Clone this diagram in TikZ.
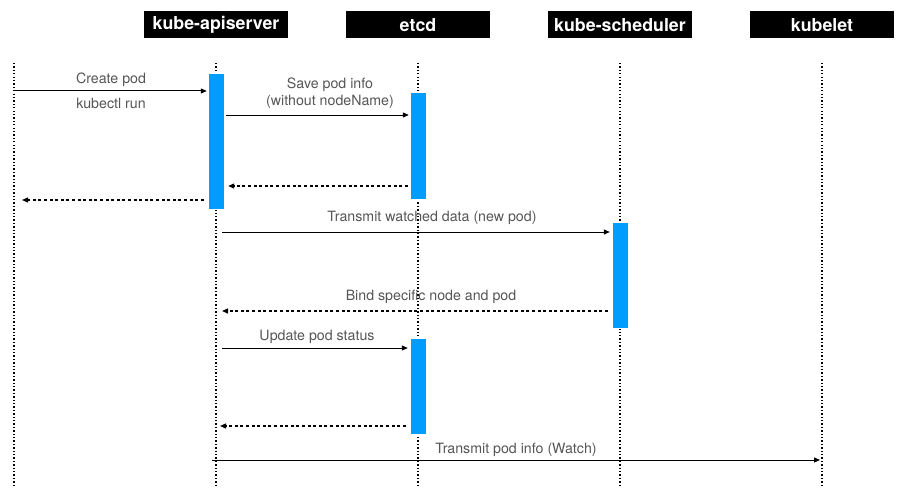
\documentclass[tikz,border=0pt]{standalone}
\usepackage{fontspec}
\setmainfont{TeX Gyre Heros}
\usetikzlibrary{arrows.meta,positioning}
\definecolor{barblue}{RGB}{0,157,255}
\definecolor{lblgray}{RGB}{85,85,85}
\begin{document}
\begin{tikzpicture}[x=1pt,y=-1pt,line join=round,>={Triangle[length=6pt,width=5pt]},
    header/.style={fill=black,text=white,font=\fontsize{17.8}{21}\selectfont\bfseries,minimum width=144pt,minimum height=27pt,inner sep=0pt},
    lifeline/.style={line width=1.3pt,dash pattern=on 1.3pt off 2.1pt},
    bar/.style={fill=barblue,draw=white,line width=0.4pt,minimum width=16pt,inner sep=0pt},
    msg/.style={->,line width=1pt},
    reply/.style={->,line width=1.2pt,dash pattern=on 3pt off 2.6pt},
    lbl/.style={text=lblgray,font=\fontsize{14.2}{16.5}\selectfont,inner sep=0pt}]
    \useasboundingbox (0,0) rectangle (903,495);
    % participants
    \node[header] (api) at (216,25) {kube-apiserver};
    \node[header] (etcd) at (418,25) {etcd};
    \node[header] (sched) at (620,25) {kube-scheduler};
    \node[header] (kubelet) at (822,25) {kubelet};
    \coordinate (cli) at (14,63);
    \coordinate (cliend) at (14,485);
    % lifelines
    \draw[lifeline] (cli) -- (cliend);
    \foreach \p in {api,etcd,sched,kubelet}
        \draw[lifeline] (\p.south |- 0,63) -- (\p.south |- 0,485);
    % activation bars
    \node[bar,minimum height=136pt] (apibar) at (216,141) {};
    \node[bar,minimum height=107pt] (etcdbar) at (418,145.5) {};
    \node[bar,minimum height=106pt] (schedbar) at (620,275) {};
    \node[bar,minimum height=96pt] (etcdbarb) at (418,386) {};
    % messages
    \draw[msg] (cli |- 0,91) -- ([xshift=-1pt]apibar.west |- 0,91);
    \node[lbl] (create) at (111,80) {Create pod};
    \node[lbl] (kubectl) at (111,103) {kubectl run};
    \draw[msg] ([xshift=2pt]apibar.east |- 0,115) -- ([xshift=-1pt]etcdbar.west |- 0,115);
    \node[lbl,align=center] (save) at (330,93) {Save pod info\\(without nodeName)};
    \draw[reply] ([xshift=-2pt]etcdbar.west |- 0,186) -- ([xshift=4pt]apibar.east |- 0,186);
    \draw[reply] ([xshift=-4pt]apibar.west |- 0,200) -- ([xshift=8pt]cli |- 0,200);
    \draw[msg] ([xshift=6pt]api.south |- 0,232) -- ([xshift=-2pt]schedbar.west |- 0,232);
    \node[lbl] (watch) at (432,218) {Transmit watched data (new pod)};
    \draw[reply] ([xshift=-4pt]schedbar.west |- 0,311) -- ([xshift=6pt]api.south |- 0,311);
    \node[lbl] (bind) at (431,297) {Bind specific node and pod};
    \draw[msg] ([xshift=6pt]api.south |- 0,348) -- ([xshift=-2pt]etcdbarb.west |- 0,348);
    \node[lbl] (update) at (317,337) {Update pod status};
    \draw[reply] ([xshift=-4pt]etcdbarb.west |- 0,426) -- ([xshift=4pt]api.south |- 0,426);
    \draw[msg] ([xshift=-4pt]api.south |- 0,460) -- ([xshift=-2pt]kubelet.south |- 0,460);
    \node[lbl] (podinfo) at (516,450) {Transmit pod info (Watch)};
\end{tikzpicture}
\end{document}
